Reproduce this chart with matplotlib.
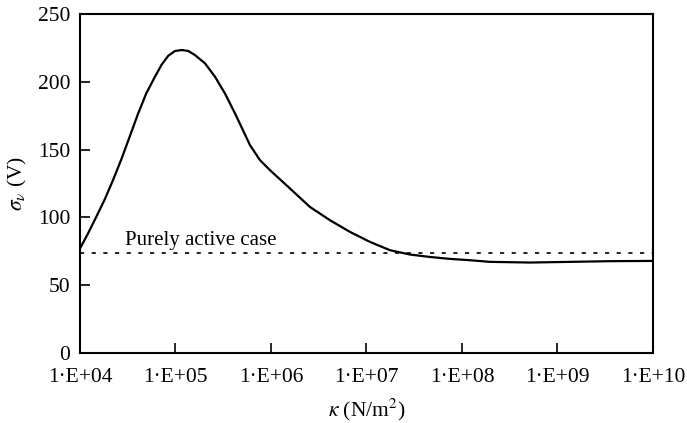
import numpy as np
import matplotlib.pyplot as plt
from matplotlib.ticker import FixedLocator, FixedFormatter, NullLocator

plt.rcParams['font.family'] = ['Liberation Serif', 'DejaVu Serif']
plt.rcParams['mathtext.fontset'] = 'stix'

# stiffness kappa given as log10 exponents, sigma_v in volts
kappa_exp = [4.000, 4.084, 4.171, 4.259, 4.346, 4.432, 4.520, 4.607,
             4.694, 4.785, 4.855, 4.925, 4.995, 5.065, 5.134, 5.204,
             5.309, 5.414, 5.518, 5.623, 5.675, 5.780, 5.885, 5.990,
             6.199, 6.408, 6.618, 6.827, 7.037, 7.246, 7.455, 7.665,
             7.874, 8.084, 8.293, 8.712, 9.131, 9.550, 10.000]
sigma = [77.0, 88.1, 100.4, 113.2, 127.5, 142.6, 159.4, 176.2,
         191.4, 203.7, 212.6, 219.2, 222.7, 223.4, 222.7, 219.7,
         213.6, 203.7, 191.4, 176.7, 169.0, 153.3, 142.2, 134.8,
         121.3, 107.7, 97.9, 89.3, 81.9, 75.8, 72.6, 70.8,
         69.4, 68.4, 67.2, 66.7, 67.2, 67.7, 67.9]

purely_active = 73.5

x_ticks = [1e4, 1e5, 1e6, 1e7, 1e8, 1e9, 1e10]
x_labels = ["1·E+04", "1·E+05", "1·E+06", "1·E+07", "1·E+08", "1·E+09", "1·E+10"]
y_ticks = [0, 50, 100, 150, 200, 250]

kappa = 10.0 ** np.array(kappa_exp)

fig = plt.figure(figsize=(6.87, 4.23), dpi=100)
ax = fig.add_axes([0.1164, 0.1655, 0.8341, 0.8015])

ax.plot(kappa, sigma, color="black", lw=1.6, solid_joinstyle="round")
ax.axhline(purely_active, color="black", lw=1.2, dashes=[2.5, 4.5])
ax.text(2.95e4, 79.5, "Purely active case", fontsize=15)

ax.set_xscale("log")
ax.set_xlim(1e4, 1e10)
ax.set_ylim(0, 250)
ax.xaxis.set_major_locator(FixedLocator(x_ticks))
ax.xaxis.set_major_formatter(FixedFormatter(x_labels))
ax.xaxis.set_minor_locator(NullLocator())
ax.set_yticks(y_ticks)

ax.tick_params(direction="in", length=7, width=1.2, labelsize=15.5)
ax.tick_params(axis="x", pad=11)
ax.tick_params(axis="y", pad=7)
for s in ax.spines.values():
    s.set_linewidth(1.5)

ax.set_xlabel(r"$\kappa$ (N/m$^2$)", fontsize=15.5, labelpad=7)
ax.set_ylabel(r"$\sigma_\nu$ (V)", fontsize=15.5, labelpad=6)

fig.savefig("out.png")
